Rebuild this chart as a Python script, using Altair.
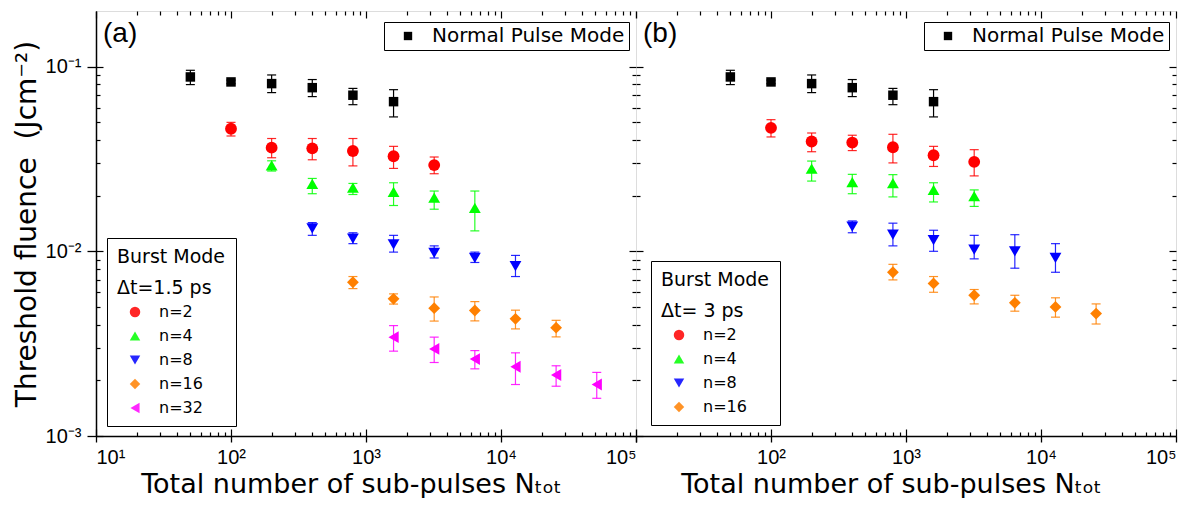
import altair as alt
import pandas as pd

# ---------------- data ----------------
X_MAJOR = [10, 100, 1000, 10000, 100000]
X_MAJOR_LABELS = ["10¹", "10²", "10³", "10⁴", "10⁵"]
Y_MAJOR = [0.001, 0.01, 0.1]
Y_MAJOR_LABELS = ["10⁻³", "10⁻²", "10⁻¹"]
X_DOMAIN = [10, 100000]
Y_DOMAIN = [0.001, 0.2]

NORMAL_X = [50, 100, 200, 400, 800, 1600]
NORMAL_Y = [0.0879, 0.0826, 0.0809, 0.0769, 0.0700, 0.0646]
NORMAL_HI = [0.0955, 0.0845, 0.0901, 0.0851, 0.0762, 0.0750]
NORMAL_LO = [0.0799, 0.0808, 0.0723, 0.0688, 0.0622, 0.0534]

N2_X = [100, 200, 400, 800, 1600, 3200]
N4_X = [200, 400, 800, 1600, 3200, 6400]
N8_X = [400, 800, 1600, 3200, 6400, 12800]
N16_X = [800, 1600, 3200, 6400, 12800, 25600]
N32_X = [1600, 3200, 6400, 12800, 25600, 51200]

# panel (a): dt = 1.5 ps
A_N2 = [0.0461, 0.0364, 0.0361, 0.0349, 0.0327, 0.0293]
A_N2_HI = [0.0499, 0.0408, 0.0408, 0.0408, 0.0370, 0.0324]
A_N2_LO = [0.0421, 0.0321, 0.0313, 0.0290, 0.0281, 0.0263]
A_N4 = [0.0292, 0.0232, 0.0221, 0.0210, 0.0195, 0.0172]
A_N4_HI = [0.0309, 0.0248, 0.0233, 0.0235, 0.0212, 0.0212]
A_N4_LO = [0.0272, 0.0205, 0.0203, 0.0177, 0.0169, 0.0129]
A_N8 = [0.0133, 0.0117, 0.0109, 0.0098, 0.0092, 0.0083]
A_N8_HI = [0.0143, 0.0126, 0.0122, 0.0107, 0.0099, 0.0095]
A_N8_LO = [0.0122, 0.0110, 0.0099, 0.0092, 0.0087, 0.0073]
A_N16 = [0.0068, 0.00553, 0.00492, 0.00478, 0.00431, 0.00386]
A_N16_HI = [0.0073, 0.00588, 0.00566, 0.00534, 0.00480, 0.00423]
A_N16_LO = [0.00628, 0.00518, 0.00419, 0.00420, 0.00380, 0.00344]
A_N32 = [0.00343, 0.00296, 0.00261, 0.00237, 0.00214, 0.00190]
A_N32_HI = [0.00396, 0.00343, 0.00290, 0.00282, 0.00240, 0.00221]
A_N32_LO = [0.00288, 0.00250, 0.00231, 0.00190, 0.00186, 0.00160]

# panel (b): dt = 3 ps
B_N2 = [0.0466, 0.0393, 0.0388, 0.0366, 0.0331, 0.0305]
B_N2_HI = [0.0516, 0.0437, 0.0425, 0.0430, 0.0370, 0.0355]
B_N2_LO = [0.0416, 0.0346, 0.0351, 0.0301, 0.0288, 0.0256]
B_N4_X = [200, 400, 800, 1600, 3200]
B_N4 = [0.0280, 0.0237, 0.0234, 0.0215, 0.0199]
B_N4_HI = [0.0308, 0.0261, 0.0260, 0.0235, 0.0215]
B_N4_LO = [0.0240, 0.0205, 0.0197, 0.0185, 0.0175]
B_N8 = [0.0136, 0.0123, 0.0115, 0.0102, 0.0100, 0.0092]
B_N8_HI = [0.0146, 0.0142, 0.0130, 0.0122, 0.0123, 0.0110]
B_N8_LO = [0.0126, 0.0107, 0.0100, 0.0091, 0.0081, 0.0077]
B_N16 = [0.0077, 0.0067, 0.00578, 0.00526, 0.0050, 0.0046]
B_N16_HI = [0.0085, 0.0073, 0.00621, 0.00578, 0.0056, 0.00519]
B_N16_LO = [0.0070, 0.0060, 0.00519, 0.00474, 0.0044, 0.00404]

NORMAL_NAME = "Normal Pulse Mode"
COLORS = {"n=2": "#ff0000", "n=4": "#00ff00", "n=8": "#0000ff",
          "n=16": "#ff8000", "n=32": "#ff00ff"}
SHAPES = {"n=2": "circle", "n=4": "triangle-up", "n=8": "triangle-down",
          "n=16": "diamond", "n=32": "triangle-left"}

X_TITLE = "Total number of sub-pulses Nₜₒₜ"
Y_TITLE = "Threshold fluence\u00a0\u00a0(Jcm⁻²)"

# ---------------- layout constants ----------------
W, H = 540, 425
SANS = "DejaVu Sans"
TICKFONT = "Liberation Sans"

X_MINOR = [m * 10 ** k for k in range(1, 5) for m in range(2, 10)]
Y_MINOR = [round(m * 10.0 ** k, 6) for k in (-3, -2) for m in range(2, 10)]


def label_expr(vals, labels, hide=()):
    expr = "''"
    for v, lab in reversed(list(zip(vals, labels))):
        if v in hide:
            continue
        expr = f"datum.value == {v} ? '{lab}' : ({expr})"
    return expr


def inner_axis(orient, offset, values, majors):
    return alt.Axis(
        orient=orient, offset=offset, values=values, labels=False, domain=False,
        grid=False, title=None, tickColor="black", tickWidth=1.2,
        tickSize={"condition": {"test": f"indexof({majors}, datum.value) >= 0", "value": 7}, "value": 4},
    )


def panel(tag, series, dt_label, first, legend_x, legend_y):
    recs = []
    for name, xs_, ys_, lo_, hi_ in series:
        for x, y, lo, hi in zip(xs_, ys_, lo_, hi_):
            recs.append(dict(series=name, x=x, y=y, lo=lo, hi=hi))
    bdf = pd.DataFrame(recs)
    ndf = pd.DataFrame(dict(mode=NORMAL_NAME, x=NORMAL_X, y=NORMAL_Y, lo=NORMAL_LO, hi=NORMAL_HI))
    names = [s[0] for s in series]

    xs = alt.Scale(type="log", domain=X_DOMAIN, nice=False)
    ys = alt.Scale(type="log", domain=Y_DOMAIN, nice=False)
    cscale = alt.Scale(domain=names, range=[COLORS[n] for n in names])
    sscale = alt.Scale(domain=names, range=[SHAPES[n] for n in names])

    x_main = alt.Axis(
        orient="bottom", values=X_MAJOR, grid=False, title=X_TITLE, titleX=255,
        labelExpr=label_expr(X_MAJOR, X_MAJOR_LABELS, hide=() if first else (10,)),
        labelFont=TICKFONT, labelFontSize=20, labelColor="black", labelPadding=5,
        tickSize=6, tickColor="black", tickWidth=1.3, domainColor="black", domainWidth=1.5,
        titleFont=SANS, titleFontSize=27, titleFontWeight="normal", titleColor="black", titlePadding=4,
    )
    if first:
        y_main = alt.Axis(
            orient="left", values=Y_MAJOR, grid=False, title=Y_TITLE,
            labelExpr=label_expr(Y_MAJOR, Y_MAJOR_LABELS),
            labelFont=TICKFONT, labelFontSize=20, labelColor="black", labelPadding=6,
            tickSize=9, tickColor="black", tickWidth=1.3, domainColor="black", domainWidth=1.5,
            titleFont=SANS, titleFontSize=28, titleFontWeight="normal", titleColor="black", titlePadding=4,
        )
    else:
        y_main = None

    x_vals = X_MAJOR + X_MINOR
    y_vals = Y_MAJOR + Y_MINOR
    x_in_bottom = inner_axis("top", -H, x_vals, X_MAJOR)
    x_in_top = inner_axis("bottom", -H, x_vals, X_MAJOR)
    y_in_left = inner_axis("right", -W, y_vals, Y_MAJOR)
    y_in_right = inner_axis("left", -W, y_vals, Y_MAJOR)

    # normal pulse mode error bars (these layers carry the axes)
    n_rule = alt.Chart(ndf).mark_rule(color="black", strokeWidth=1.2).encode(
        x=alt.X("x:Q", scale=xs, axis=x_main),
        y=alt.Y("lo:Q", scale=ys, axis=y_main),
        y2="hi:Q",
    )
    n_cap_lo = alt.Chart(ndf).mark_tick(orient="horizontal", size=9, thickness=1.2, color="black", opacity=1).encode(
        x=alt.X("x:Q", scale=xs, axis=x_in_bottom),
        y=alt.Y("lo:Q", scale=ys, axis=y_in_left),
    )
    n_cap_hi = alt.Chart(ndf).mark_tick(orient="horizontal", size=9, thickness=1.2, color="black", opacity=1).encode(
        x=alt.X("x:Q", scale=xs, axis=x_in_top),
        y=alt.Y("hi:Q", scale=ys, axis=y_in_right),
    )

    burst_legend = alt.Legend(
        title=["Burst Mode", dt_label], orient="none", legendX=legend_x, legendY=legend_y,
        strokeColor="black", fillColor="white", padding=10,
        titleFont=SANS, titleFontSize=19, titleFontWeight="normal", titleColor="black",
        titleLineHeight=31, titlePadding=6, titleLimit=300,
        labelFont=SANS, labelFontSize=16, labelColor="black", labelLimit=200,
        symbolSize=110, symbolOffset=10, labelOffset=16, rowPadding=8, symbolStrokeWidth=0,
    )
    col = alt.Color("series:N", scale=cscale, legend=burst_legend)
    shp = alt.Shape("series:N", scale=sscale, legend=burst_legend)

    b_rule = alt.Chart(bdf).mark_rule(strokeWidth=1.2, opacity=0.85).encode(
        x=alt.X("x:Q", scale=xs, axis=None),
        y=alt.Y("lo:Q", scale=ys, axis=None),
        y2="hi:Q", color=col,
    )
    b_cap_lo = alt.Chart(bdf).mark_tick(orient="horizontal", size=9, thickness=1.2, opacity=0.85).encode(
        x=alt.X("x:Q", scale=xs, axis=None),
        y=alt.Y("lo:Q", scale=ys, axis=None), color=col,
    )
    b_cap_hi = alt.Chart(bdf).mark_tick(orient="horizontal", size=9, thickness=1.2, opacity=0.85).encode(
        x=alt.X("x:Q", scale=xs, axis=None),
        y=alt.Y("hi:Q", scale=ys, axis=None), color=col,
    )
    b_pts = alt.Chart(bdf).mark_point(filled=True, opacity=1, size=140).encode(
        x=alt.X("x:Q", scale=xs, axis=None),
        y=alt.Y("y:Q", scale=ys, axis=None),
        color=col, shape=shp,
    )

    normal_legend = alt.Legend(
        title=None, orient="none", legendX=288, legendY=11,
        strokeColor="black", fillColor="white", padding=4,
        labelFont=SANS, labelFontSize=20, labelColor="black", labelLimit=400,
        symbolType="square", symbolSize=70, symbolOffset=10, labelOffset=14, symbolStrokeWidth=0,
    )
    n_pts = alt.Chart(ndf).mark_point(filled=True, shape="square", size=90, opacity=1).encode(
        x=alt.X("x:Q", scale=xs, axis=None),
        y=alt.Y("y:Q", scale=ys, axis=None),
        fill=alt.Fill("mode:N", scale=alt.Scale(domain=[NORMAL_NAME], range=["black"]), legend=normal_legend),
    )

    tag_txt = alt.Chart(pd.DataFrame({"t": [tag]})).mark_text(
        align="left", baseline="middle", font=TICKFONT, fontSize=28, color="black"
    ).encode(text="t:N", x=alt.value(7), y=alt.value(23))

    return alt.layer(
        n_rule, n_cap_lo, n_cap_hi, b_rule, b_cap_lo, b_cap_hi, b_pts, n_pts, tag_txt
    ).resolve_axis(x="independent", y="independent").properties(width=W, height=H)


series_a = [
    ("n=2", N2_X, A_N2, A_N2_LO, A_N2_HI),
    ("n=4", N4_X, A_N4, A_N4_LO, A_N4_HI),
    ("n=8", N8_X, A_N8, A_N8_LO, A_N8_HI),
    ("n=16", N16_X, A_N16, A_N16_LO, A_N16_HI),
    ("n=32", N32_X, A_N32, A_N32_LO, A_N32_HI),
]
series_b = [
    ("n=2", N2_X, B_N2, B_N2_LO, B_N2_HI),
    ("n=4", B_N4_X, B_N4, B_N4_LO, B_N4_HI),
    ("n=8", N8_X, B_N8, B_N8_LO, B_N8_HI),
    ("n=16", N16_X, B_N16, B_N16_LO, B_N16_HI),
]

pa = panel("(a)", series_a, "Δt=1.5 ps", True, 11, 227)
pb = panel("(b)", series_b, "Δt= 3 ps", False, 15, 250)

chart = alt.hconcat(pa, pb, spacing=0, bounds="flush").resolve_scale(
    color="independent", shape="independent", fill="independent",
    x="independent", y="independent",
).resolve_legend(
    color="independent", shape="independent", fill="independent"
).properties(
    padding={"left": 4, "top": 1, "right": 5, "bottom": 0}
).configure_view(stroke="black", strokeWidth=1.5).configure(background="white")

chart.save("out.html", embed_options={"renderer": "svg", "actions": False})
